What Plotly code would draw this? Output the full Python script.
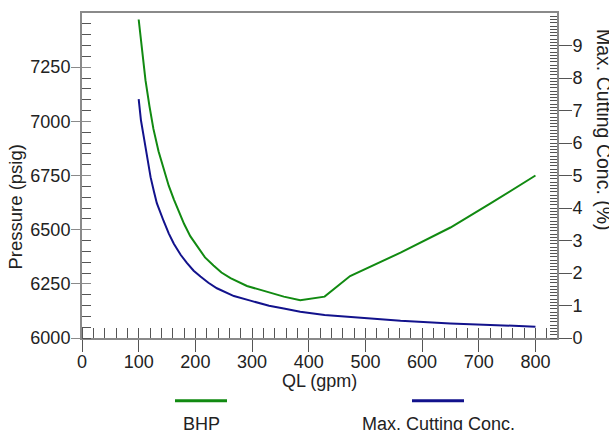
import numpy as np
import plotly.graph_objects as go

# ---- data ----
ql_bhp = [100, 106, 112, 119, 126, 135, 144, 153, 162, 180, 191, 203, 217,
          232, 246, 262, 291, 315, 356, 385, 428, 473, 562, 650, 720, 800]
bhp = [7470, 7322, 7190, 7070, 6965, 6862, 6776, 6703, 6640, 6527, 6470, 6422,
       6372, 6335, 6302, 6276, 6240, 6222, 6191, 6174, 6191, 6286, 6394, 6510,
       6620, 6750]

ql_conc = [100, 104, 109, 115, 121, 127, 132, 144, 153, 162, 174, 185, 197,
           209, 223, 238, 253, 268, 297, 330, 356, 385, 428, 473, 562, 650,
           720, 800]
conc = [7.35, 6.7, 6.19, 5.5, 4.95, 4.5, 4.15, 3.6, 3.22, 2.9, 2.56, 2.31,
        2.07, 1.89, 1.7, 1.53, 1.4, 1.29, 1.15, 0.99, 0.91, 0.81, 0.71, 0.65,
        0.53, 0.45, 0.4, 0.35]

x_ticks = [0, 100, 200, 300, 400, 500, 600, 700, 800]
y_ticks = [6000, 6250, 6500, 6750, 7000, 7250]
y2_ticks = [0, 1, 2, 3, 4, 5, 6, 7, 8, 9]

series_names = ["BHP", "Max. Cutting Conc."]
green = "#118a11"
navy = "#12128c"

x_range = [0, 838]
y_range = [6000, 7500]
y2_range = [0, 10]

# plot area in pixels
W, H = 609, 430
L, R, T, B = 82, 557, 13, 338
def px(x):
    return (x - L) / (R - L)
def py(y):
    return (B - y) / (B - T)

FONT = "Liberation Sans, Arial, sans-serif"
axis_col = "#8a8a8a"
tick_col = "#555555"

fig = go.Figure()
fig.add_trace(go.Scatter(x=ql_bhp, y=bhp, mode="lines", name=series_names[0],
                         line=dict(color=green, width=2),
                         xaxis="x", yaxis="y"))
fig.add_trace(go.Scatter(x=ql_conc, y=conc, mode="lines", name=series_names[1],
                         line=dict(color=navy, width=2),
                         xaxis="x", yaxis="y2"))
# dummy traces to anchor the helper axes that draw the inner half of major ticks
fig.add_trace(go.Scatter(x=[None], y=[None], xaxis="x2", yaxis="y3",
                         showlegend=False, hoverinfo="skip"))
fig.add_trace(go.Scatter(x=[None], y=[None], xaxis="x2", yaxis="y4",
                         showlegend=False, hoverinfo="skip"))

tickfont = dict(family=FONT, size=18, color="#222222")

fig.update_layout(
    width=W, height=H,
    margin=dict(l=L, r=W - R, t=T, b=H - B),
    paper_bgcolor="white", plot_bgcolor="white",
    showlegend=False,
    font=dict(family=FONT, size=18, color="#222222"),
    xaxis=dict(range=x_range, tickmode="array", tickvals=x_ticks,
               ticks="outside", ticklen=12, tickwidth=1, tickcolor=tick_col,
               tickfont=tickfont, showgrid=False, zeroline=False,
               ticklabelstandoff=-6,
               showline=True, linecolor=axis_col, linewidth=2, mirror=True,
               minor=dict(tickmode="array", tickvals=list(np.arange(0, 840, 20)),
                          ticks="inside", ticklen=10, tickwidth=1,
                          tickcolor=tick_col, showgrid=False)),
    xaxis2=dict(range=x_range, overlaying="x", anchor="y", tickmode="array",
                tickvals=x_ticks, ticks="inside", ticklen=10, tickwidth=1,
                tickcolor=tick_col, showticklabels=False, showgrid=False,
                zeroline=False, showline=False),
    yaxis=dict(range=y_range, tickmode="array", tickvals=y_ticks,
               ticks="outside", ticklen=9, tickwidth=1, tickcolor=axis_col,
               tickfont=tickfont, showgrid=False, zeroline=False,
               ticklabelstandoff=-3,
               showline=True, linecolor=axis_col, linewidth=2,
               minor=dict(tickmode="array",
                          tickvals=list(np.arange(6000, 7500, 50)),
                          ticks="inside", ticklen=9, tickwidth=1,
                          tickcolor=tick_col, showgrid=False)),
    yaxis2=dict(range=y2_range, overlaying="y", side="right", anchor="x",
                tickmode="array", tickvals=y2_ticks,
                ticks="outside", ticklen=13, tickwidth=1, tickcolor=tick_col,
                tickfont=tickfont, showgrid=False, zeroline=False,
                ticklabelstandoff=-3,
                showline=True, linecolor=axis_col, linewidth=2,
                minor=dict(tickmode="array",
                           tickvals=list(np.round(np.arange(0, 10, 0.1), 2)),
                           ticks="inside", ticklen=7, tickwidth=1,
                           tickcolor=tick_col, showgrid=False)),
    yaxis3=dict(range=y_range, overlaying="y", anchor="x2", side="left",
                tickmode="array", tickvals=y_ticks, ticks="inside", ticklen=9,
                tickwidth=1, tickcolor=axis_col, showticklabels=False,
                showgrid=False, zeroline=False, showline=False),
    yaxis4=dict(range=y2_range, overlaying="y", anchor="x2", side="right",
                tickmode="array", tickvals=y2_ticks, ticks="inside", ticklen=7,
                tickwidth=1, tickcolor=tick_col, showticklabels=False,
                showgrid=False, zeroline=False, showline=False),
)

ann = []
ann.append(dict(text="Pressure (psig)", xref="paper", yref="paper",
                x=px(15), y=py(207.5), xanchor="center", yanchor="middle",
                textangle=-90, showarrow=False, font=dict(size=18.5)))
ann.append(dict(text="Max. Cutting Conc. (%)", xref="paper", yref="paper",
                x=px(604), y=py(130), xanchor="center", yanchor="middle",
                textangle=90, showarrow=False, font=dict(size=19.5)))
ann.append(dict(text="QL (gpm)", xref="paper", yref="paper",
                x=px(319.5), y=py(381), xanchor="center", yanchor="middle",
                showarrow=False, font=dict(size=18)))
# manual legend: symbol above label
leg = [(series_names[0], green, 175, 227), (series_names[1], navy, 412, 464)]
shapes = []
for name, col, x0, x1 in leg:
    shapes.append(dict(type="line", xref="paper", yref="paper",
                       x0=px(x0), x1=px(x1), y0=py(400.7), y1=py(400.7),
                       line=dict(color=col, width=3)))
    ann.append(dict(text=name, xref="paper", yref="paper",
                    x=px((x0 + x1) / 2), y=py(424), xanchor="center",
                    yanchor="middle", showarrow=False, font=dict(size=18)))
fig.update_layout(annotations=ann, shapes=shapes)

fig.write_html("out.html")
